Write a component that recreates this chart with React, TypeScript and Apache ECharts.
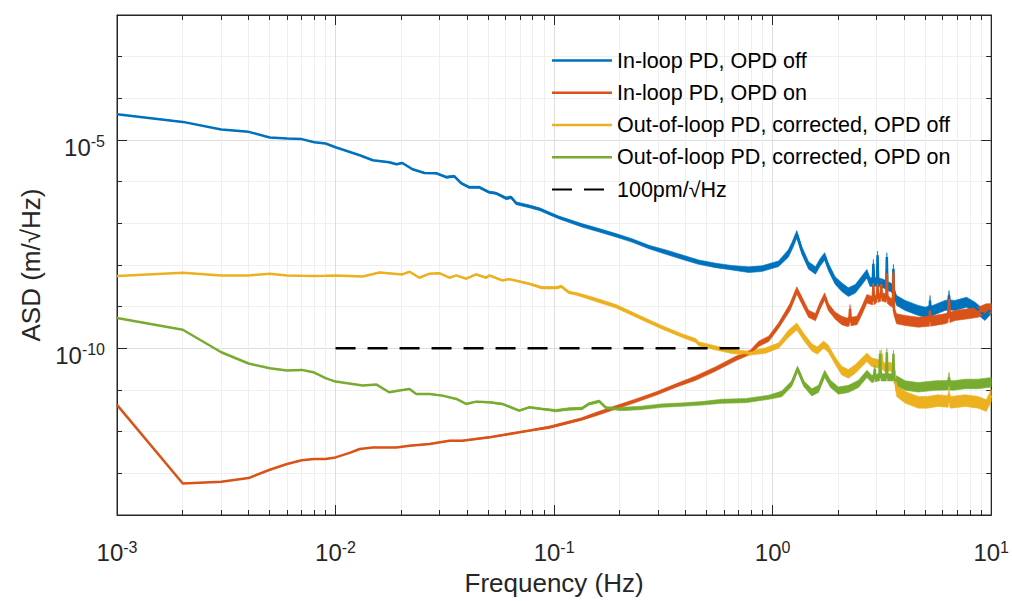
import React, { useEffect, useRef } from "react";
import * as echarts from "echarts";

// ---- data: [frequency (Hz), ASD (m/√Hz)] ----
const inLoopOff = [
  [1e-3, 4.17e-5], [2e-3, 2.72e-5], [3e-3, 1.79e-5], [4e-3, 1.57e-5], [5e-3, 1.15e-5],
  [6e-3, 1.09e-5], [7e-3, 1.05e-5], [8e-3, 8.85e-6], [9e-3, 8.24e-6], [1e-2, 6.7e-6],
  [1.29e-2, 4.31e-6], [1.48e-2, 3.27e-6], [1.76e-2, 2.92e-6], [1.9e-2, 2.62e-6], [2.02e-2, 2.81e-6],
  [2.25e-2, 1.99e-6], [2.55e-2, 1.62e-6], [2.89e-2, 1.59e-6], [3.21e-2, 1.28e-6], [3.49e-2, 1.35e-6],
  [3.76e-2, 9.16e-7], [4.09e-2, 7.33e-7], [4.55e-2, 7.33e-7], [5.05e-2, 5.56e-7], [5.43e-2, 5.26e-7],
  [6.04e-2, 3.99e-7], [6.36e-2, 4.22e-7], [6.71e-2, 3.03e-7], [7.69e-2, 2.56e-7], [8.62e-2, 2.17e-7],
  [9.49e-2, 1.74e-7], [0.105, 1.39e-7], [0.134, 8.95e-8], [0.161, 6.79e-8], [0.192, 5.15e-8],
  [0.227, 3.9e-8], [0.272, 2.69e-8], [0.325, 2.04e-8], [0.384, 1.55e-8], [0.459, 1.17e-8],
  [0.549, 9.77e-9], [0.65, 8.61e-9], [0.777, 7.71e-9], [0.891, 8.15e-9], [1.065, 1.07e-8],
  [1.18, 1.9e-8], [1.23, 2.96e-8], [1.29, 5.44e-8], [1.36, 2.24e-8], [1.46, 9.77e-9],
  [1.57, 7.41e-9], [1.65, 1.17e-8], [1.73, 1.61e-8], [1.8, 8.91e-9], [1.93, 4.27e-9],
  [2.07, 2.94e-9], [2.22, 2.23e-9], [2.39, 2.69e-9], [2.56, 4.27e-9], [2.7, 6.18e-9],
  [2.79, 3.88e-9], [2.87, 3.9e-9], [2.89, 1.07e-8], [2.91, 3.9e-9], [3.0, 3.9e-9],
  [3.02, 1.7e-8], [3.04, 3.9e-9], [3.2, 3.6e-9], [3.31, 3.3e-9], [3.33, 1.55e-8],
  [3.35, 3.1e-9], [3.46, 2.94e-9], [3.55, 2.6e-9], [3.57, 8.15e-9], [3.59, 2.2e-9],
  [3.69, 1.41e-9], [4.04, 1.07e-9], [4.64, 8.11e-10], [5.0, 7.38e-10], [5.22, 8e-10],
  [5.25, 1.41e-9], [5.28, 8e-10], [5.4, 8.11e-10], [6.15, 1.07e-9], [6.35, 1.1e-9],
  [6.41, 1.86e-9], [6.47, 1.1e-9], [6.83, 1.07e-9], [7.71, 1.28e-9], [8.43, 9.73e-10],
  [9.36, 6.14e-10], [10, 8.91e-10],
];

const inLoopOn = [
  [1e-3, 4.39e-12], [2e-3, 5.71e-14], [3e-3, 6.28e-14], [4e-3, 7.71e-14], [5e-3, 1.22e-13],
  [6e-3, 1.67e-13], [7e-3, 2.07e-13], [8e-3, 2.21e-13], [9e-3, 2.21e-13], [1e-2, 2.41e-13],
  [1.16e-2, 3.1e-13], [1.29e-2, 3.84e-13], [1.48e-2, 4.19e-13], [1.9e-2, 4.19e-13], [2.18e-2, 4.6e-13],
  [2.69e-2, 5.06e-13], [3.32e-2, 6.08e-13], [3.8e-2, 6.08e-13], [5.05e-2, 7.3e-13], [6.23e-2, 8.81e-13],
  [7.69e-2, 1.06e-12], [9.49e-2, 1.27e-12], [0.109, 1.53e-12], [0.134, 2.02e-12], [0.156, 2.66e-12],
  [0.192, 3.84e-12], [0.237, 5.56e-12], [0.292, 8.18e-12], [0.361, 1.28e-11], [0.445, 1.93e-11],
  [0.549, 3.21e-11], [0.678, 5.69e-11], [0.794, 8.15e-11], [0.863, 1.28e-10], [0.959, 1.69e-10],
  [1.065, 3.53e-10], [1.2, 9.73e-10], [1.29, 2.45e-9], [1.36, 1.41e-9], [1.46, 6.75e-10],
  [1.57, 5.6e-10], [1.65, 1.07e-9], [1.73, 1.76e-9], [1.8, 9.73e-10], [1.93, 6.14e-10],
  [2.07, 4.66e-10], [2.19, 4.24e-10], [2.24, 4.3e-10], [2.26, 8.91e-10], [2.28, 4.4e-10],
  [2.43, 4.66e-10], [2.56, 8.11e-10], [2.7, 1.55e-9], [2.84, 1.41e-9], [2.87, 1.4e-9],
  [2.89, 3.24e-9], [2.91, 1.4e-9], [3.0, 1.6e-9], [3.02, 3.2e-9], [3.04, 1.6e-9],
  [3.12, 1.7e-9], [3.14, 3.5e-9], [3.16, 1.7e-9], [3.2, 1.7e-9], [3.31, 1.6e-9],
  [3.33, 6.3e-9], [3.35, 1.5e-9], [3.46, 1.3e-9], [3.55, 1.2e-9], [3.57, 6.5e-9],
  [3.59, 8e-10], [3.69, 5.12e-10], [4.04, 4.66e-10], [4.64, 4.24e-10], [5.22, 4.5e-10],
  [5.25, 8.11e-10], [5.28, 4.5e-10], [6.15, 5.12e-10], [6.35, 5.5e-10], [6.41, 1.55e-9],
  [6.47, 5.5e-10], [6.83, 6.14e-10], [7.85, 6.75e-10], [8.72, 7.38e-10], [9.49, 8.91e-10],
  [10, 8.91e-10],
];

const outLoopOff = [
  [1e-3, 5.41e-9], [2e-3, 6.53e-9], [3e-3, 5.62e-9], [4e-3, 5.62e-9], [5e-3, 6.18e-9],
  [6e-3, 5.62e-9], [7e-3, 5.5e-9], [8e-3, 5.41e-9], [9e-3, 5.5e-9], [1e-2, 5.62e-9],
  [1.33e-2, 5.32e-9], [1.59e-2, 6.64e-9], [2.02e-2, 5.94e-9], [2.18e-2, 6.9e-9], [2.42e-2, 4.95e-9],
  [2.69e-2, 6.18e-9], [2.98e-2, 6.38e-9], [3.32e-2, 4.95e-9], [3.57e-2, 5.62e-9], [3.96e-2, 4.69e-9],
  [4.4e-2, 5.94e-9], [4.89e-2, 4.95e-9], [5.05e-2, 5.62e-9], [5.79e-2, 4.27e-9], [6.23e-2, 4.58e-9],
  [7.69e-2, 3.55e-9], [8.82e-2, 2.84e-9], [0.102, 2.84e-9], [0.108, 3.06e-9], [0.117, 2.2e-9],
  [0.126, 2.04e-9], [0.15, 1.55e-9], [0.192, 1.02e-9], [0.22, 7.38e-10], [0.272, 4.4e-10],
  [0.311, 3.21e-10], [0.384, 2.03e-10], [0.445, 1.54e-10], [0.459, 1.28e-10], [0.549, 1.02e-10],
  [0.65, 8.4e-11], [0.777, 7.62e-11], [0.929, 8.85e-11], [1.065, 1.17e-10], [1.18, 2.23e-10],
  [1.29, 3.34e-10], [1.39, 1.85e-10], [1.51, 1.06e-10], [1.6, 8.85e-11], [1.71, 1.23e-10],
  [1.8, 9.72e-11], [1.93, 5.09e-11], [2.07, 2.92e-11], [2.22, 2.44e-11], [2.39, 3.21e-11],
  [2.56, 4.63e-11], [2.7, 6.11e-11], [2.84, 4.63e-11], [3.05, 4.24e-11], [3.13, 4.2e-11],
  [3.15, 7.36e-11], [3.17, 4.0e-11], [3.25, 3.52e-11], [3.45, 3.66e-11], [3.6, 3.0e-11],
  [3.69, 9.68e-12], [4.04, 6.68e-12], [4.64, 5.06e-12], [5.1, 5.06e-12], [5.7, 5.56e-12],
  [6.35, 5.3e-12], [6.41, 8.05e-12], [6.47, 5.2e-12], [6.57, 5.06e-12], [7.61, 5.56e-12],
  [8.72, 5.06e-12], [9.49, 4.22e-12], [10, 7.33e-12],
];

const outLoopOn = [
  [1e-3, 5.35e-10], [2e-3, 2.79e-10], [3e-3, 8.05e-11], [4e-3, 4.32e-11], [5e-3, 3.33e-11],
  [6e-3, 2.92e-11], [7e-3, 3.04e-11], [8e-3, 2.62e-11], [9e-3, 1.93e-11], [1e-2, 1.59e-11],
  [1.33e-2, 1.28e-11], [1.54e-2, 1.35e-11], [1.76e-2, 8.81e-12], [1.96e-2, 9.68e-12], [2.18e-2, 1.06e-11],
  [2.34e-2, 8.05e-12], [2.69e-2, 8.05e-12], [3.08e-2, 7.33e-12], [3.57e-2, 6.1e-12], [3.96e-2, 4.63e-12],
  [4.4e-2, 5.26e-12], [5.05e-2, 5.06e-12], [5.79e-2, 4.63e-12], [6.92e-2, 3.2e-12], [7.69e-2, 3.84e-12],
  [8.82e-2, 3.51e-12], [0.102, 3.2e-12], [0.117, 3.51e-12], [0.134, 3.6e-12], [0.144, 4.63e-12],
  [0.161, 5.35e-12], [0.173, 3.72e-12], [0.204, 3.51e-12], [0.252, 3.72e-12], [0.311, 4.22e-12],
  [0.384, 4.46e-12], [0.474, 4.79e-12], [0.585, 5.35e-12], [0.753, 5.56e-12], [0.959, 6.68e-12],
  [1.1, 8.05e-12], [1.22, 1.4e-11], [1.3, 3.21e-11], [1.39, 1.4e-11], [1.51, 8.81e-12],
  [1.62, 1.06e-11], [1.73, 2.44e-11], [1.84, 1.4e-11], [2.0, 9.68e-12], [2.22, 1.06e-11],
  [2.47, 1.4e-11], [2.7, 2.44e-11], [2.84, 1.85e-11], [2.91, 1.9e-11], [2.93, 3.21e-11],
  [2.95, 1.9e-11], [3.03, 2.02e-11], [3.08, 2.0e-11], [3.1, 7.36e-11], [3.13, 2.02e-11],
  [3.31, 2.0e-11], [3.33, 8.05e-11], [3.35, 2.02e-11], [3.46, 2.02e-11], [3.55, 2.0e-11],
  [3.57, 7.36e-11], [3.59, 1.8e-11], [3.69, 1.68e-11], [4.04, 1.28e-11], [4.64, 1.16e-11],
  [5.55, 1.28e-11], [6.35, 1.3e-11], [6.41, 2.02e-11], [6.47, 1.3e-11], [6.71, 1.28e-11],
  [7.61, 1.4e-11], [8.72, 1.4e-11], [10, 1.53e-11],
];

const limit100pm = [[0.01, 1e-10], [0.8, 1e-10]];

// Noise band half-width (multiplicative factor), applying from the given frequency upward
const inLoopOffSpread = [
  [0.015, 1.03], [0.03, 1.06], [0.06, 1.08], [0.12, 1.1], [0.3, 1.13], [0.7, 1.17],
  [1.1, 1.23], [2, 1.27], [3.6, 1.32],
];
const inLoopOnSpread = [
  [0.02, 1.02], [0.04, 1.04], [0.08, 1.07], [0.15, 1.1], [0.4, 1.13], [0.8, 1.16],
  [1.1, 1.22], [2, 1.26], [3.6, 1.32],
];
const outLoopOffSpread = [
  [0.015, 1.02], [0.04, 1.04], [0.08, 1.07], [0.15, 1.1], [0.4, 1.12], [0.8, 1.16],
  [1.1, 1.22], [2, 1.27], [3.6, 1.38],
];
const outLoopOnSpread = [
  [0.02, 1.02], [0.05, 1.04], [0.1, 1.07], [0.2, 1.1], [0.5, 1.12], [1.0, 1.17],
  [1.5, 1.22], [3.6, 1.3],
];

// Axis ticks
const freqMinorTicks = [
  0.002, 0.003, 0.004, 0.005, 0.006, 0.007, 0.008, 0.009,
  0.02, 0.03, 0.04, 0.05, 0.06, 0.07, 0.08, 0.09,
  0.2, 0.3, 0.4, 0.5, 0.6, 0.7, 0.8, 0.9,
  2, 3, 4, 5, 6, 7, 8, 9,
];
const asdLabelTicks = [1e-10, 1e-5];

const seriesNames = [
  "In-loop PD, OPD off",
  "In-loop PD, OPD on",
  "Out-of-loop PD, corrected, OPD off",
  "Out-of-loop PD, corrected, OPD on",
  "100pm/\u221AHz",
];
const colors = ["#0072BD", "#D95319", "#EDB120", "#77AC30", "#000000"];

const FONT = '"Liberation Sans", Arial, Helvetica, sans-serif';
const AXIS_COLOR = "#262626";
const X_MIN = 1e-3, X_MAX = 10, Y_MIN = 1e-14, Y_MAX = 1e-2;

const spreadAt = (spread, f) => {
  let k = 1;
  for (const [f0, s] of spread) if (f >= f0) k = s;
  return k;
};

const powLabel = (value) => `{b|10}{s|${Math.round(Math.log10(value))}}`;
const labelRich = {
  b: { fontSize: 24, lineHeight: 27, fontFamily: FONT, color: AXIS_COLOR },
  s: { fontSize: 16, lineHeight: 16, verticalAlign: "top", fontFamily: FONT, color: AXIS_COLOR },
};

const crisp = (v) => Math.round(v - 0.5) + 0.5;

function bandSeries(rows, spread, color) {
  return {
    type: "custom",
    silent: true,
    data: [rows[0]],
    renderItem: (_params, api) => {
      const upper = rows.map(([f, v]) => api.coord([f, v * spreadAt(spread, f)]));
      const lower = rows.map(([f, v]) => api.coord([f, v / spreadAt(spread, f)])).reverse();
      return {
        type: "polygon",
        shape: { points: upper.concat(lower) },
        style: { fill: color, stroke: color, lineWidth: 0.6 },
      };
    },
  };
}

function lineSeries(name, rows, color, dashed = false) {
  return {
    type: "line",
    name,
    data: rows,
    symbol: "none",
    showSymbol: false,
    silent: true,
    lineStyle: { color, width: 2.5, type: dashed ? [20, 12] : "solid" },
    itemStyle: { color },
  };
}

export default function App() {
  const ref = useRef(null);

  useEffect(() => {
    const chart = echarts.init(ref.current, null, { renderer: "svg" });

    const minorGrid = {
      type: "custom",
      silent: true,
      z: 1,
      data: freqMinorTicks.map((f) => [f, Y_MIN]),
      renderItem: (_params, api) => {
        const f = api.value(0);
        const b = api.coord([f, Y_MIN]);
        const t = api.coord([f, Y_MAX]);
        const x = crisp(b[0]);
        return {
          type: "group",
          children: [
            { type: "line", shape: { x1: x, y1: b[1], x2: x, y2: t[1] }, style: { stroke: "#efefef", lineWidth: 1 } },
            { type: "line", shape: { x1: x, y1: b[1], x2: x, y2: b[1] - 5 }, style: { stroke: AXIS_COLOR, lineWidth: 1 } },
            { type: "line", shape: { x1: x, y1: t[1], x2: x, y2: t[1] + 5 }, style: { stroke: AXIS_COLOR, lineWidth: 1 } },
          ],
        };
      },
    };

    const majorYTicks = {
      type: "custom",
      silent: true,
      z: 3,
      data: asdLabelTicks.map((v) => [X_MIN, v]),
      renderItem: (_params, api) => {
        const v = api.value(1);
        const l = api.coord([X_MIN, v]);
        const r = api.coord([X_MAX, v]);
        const y = crisp(l[1]);
        return {
          type: "group",
          children: [
            { type: "line", shape: { x1: l[0], y1: y, x2: l[0] + 10, y2: y }, style: { stroke: AXIS_COLOR, lineWidth: 1 } },
            { type: "line", shape: { x1: r[0], y1: y, x2: r[0] - 10, y2: y }, style: { stroke: AXIS_COLOR, lineWidth: 1 } },
          ],
        };
      },
    };

    const dashedIcon = "path://M0,0H20V2H0Z M32,0H52V2H32Z M60,0L60,2";

    const baseX = { type: "log", logBase: 10, min: X_MIN, max: X_MAX, interval: 1 };
    const baseY = { type: "log", logBase: 10, min: Y_MIN, max: Y_MAX, interval: 1 };

    chart.setOption({
      animation: false,
      backgroundColor: "#ffffff",
      textStyle: { fontFamily: FONT },
      grid: {
        left: 117,
        top: 15,
        width: 876,
        height: 501,
        show: true,
        borderColor: AXIS_COLOR,
        borderWidth: 1,
        backgroundColor: "transparent",
      },
      legend: {
        orient: "vertical",
        left: 552,
        top: 49.5,
        padding: 0,
        itemGap: 10.25,
        itemWidth: 60,
        itemHeight: 2.5,
        selectedMode: false,
        textStyle: { fontFamily: FONT, fontSize: 21.5, lineHeight: 21, color: "#000000" },
        data: seriesNames.map((name, i) => ({ name, icon: i === 4 ? dashedIcon : "rect" })),
      },
      xAxis: [
        {
          ...baseX,
          position: "bottom",
          axisLine: { show: true, lineStyle: { color: AXIS_COLOR, width: 1 } },
          axisTick: { show: true, inside: true, length: 10, lineStyle: { color: AXIS_COLOR } },
          axisLabel: {
            formatter: powLabel,
            rich: labelRich,
            margin: 24,
            showMinLabel: true,
            showMaxLabel: true,
          },
          splitLine: { show: true, lineStyle: { color: "#dedede", width: 1 } },
          name: "Frequency (Hz)",
          nameLocation: "middle",
          nameGap: 55,
          nameTextStyle: { fontFamily: FONT, fontSize: 26, color: AXIS_COLOR },
        },
        {
          ...baseX,
          position: "top",
          axisLine: { show: true, lineStyle: { color: AXIS_COLOR, width: 1 } },
          axisTick: { show: true, inside: true, length: 10, lineStyle: { color: AXIS_COLOR } },
          axisLabel: { show: false },
          splitLine: { show: false },
        },
      ],
      yAxis: [
        {
          ...baseY,
          position: "left",
          axisLine: { show: true, lineStyle: { color: AXIS_COLOR, width: 1 } },
          axisTick: { show: true, inside: true, length: 5, lineStyle: { color: AXIS_COLOR } },
          axisLabel: {
            formatter: (value) => {
              const e = Math.round(Math.log10(value));
              return e === -5 || e === -10 ? powLabel(value) : "";
            },
            rich: labelRich,
            margin: 12,
            padding: [14, 0, 0, 0],
          },
          splitLine: {
            show: true,
            lineStyle: { color: ["#efefef", "#efefef", "#efefef", "#efefef", "#dedede"], width: 1 },
          },
          name: "ASD (m/\u221AHz)",
          nameLocation: "middle",
          nameGap: 73,
          nameTextStyle: { fontFamily: FONT, fontSize: 26, color: AXIS_COLOR },
        },
        {
          ...baseY,
          position: "right",
          axisLine: { show: true, lineStyle: { color: AXIS_COLOR, width: 1 } },
          axisTick: { show: true, inside: true, length: 5, lineStyle: { color: AXIS_COLOR } },
          axisLabel: { show: false },
          splitLine: { show: false },
        },
      ],
      series: [
        minorGrid,
        majorYTicks,
        bandSeries(inLoopOff, inLoopOffSpread, colors[0]),
        lineSeries(seriesNames[0], inLoopOff, colors[0]),
        bandSeries(inLoopOn, inLoopOnSpread, colors[1]),
        lineSeries(seriesNames[1], inLoopOn, colors[1]),
        bandSeries(outLoopOff, outLoopOffSpread, colors[2]),
        lineSeries(seriesNames[2], outLoopOff, colors[2]),
        bandSeries(outLoopOn, outLoopOnSpread, colors[3]),
        lineSeries(seriesNames[3], outLoopOn, colors[3]),
        lineSeries(seriesNames[4], limit100pm, colors[4], true),
      ],
    });

    return () => chart.dispose();
  }, []);

  return (
    <div
      ref={ref}
      style={{ position: "fixed", left: 0, top: 0, width: 1012, height: 601, background: "#ffffff" }}
    />
  );
}
